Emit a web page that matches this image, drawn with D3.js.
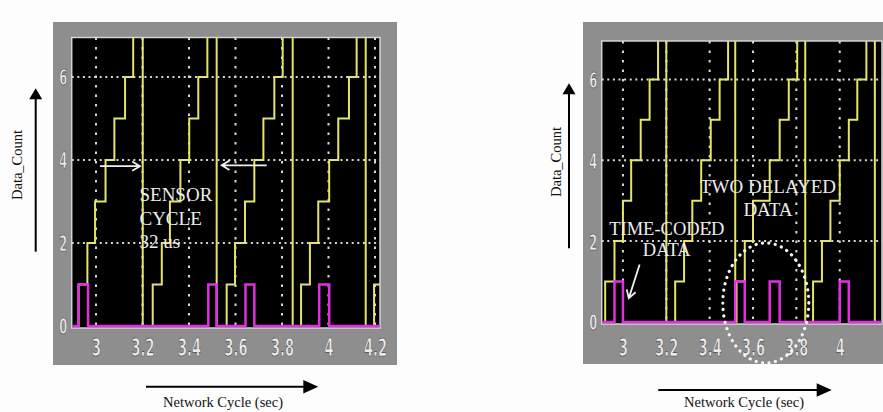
<!DOCTYPE html>
<html>
<head>
<meta charset="utf-8">
<script src="https://cdn.jsdelivr.net/npm/d3@7"></script>
<style>
  body { margin: 0; background: #fdfdfd; }
  svg { display: block; }
</style>
</head>
<body>
<div id="chart"></div>
<script>
const xTicks = [3, 3.2, 3.4, 3.6, 3.8, 4, 4.2];
const yTicks = [0, 2, 4, 6];

// left scope: regular sensor cycle (time of each step, count after the step)
const leftTimes = [2.925, 2.963, 2.996, 3.041, 3.079, 3.125, 3.160, 3.201,
                   3.244, 3.283, 3.318, 3.363, 3.401, 3.440, 3.479, 3.519,
                   3.562, 3.598, 3.641, 3.681, 3.720, 3.767, 3.803, 3.846,
                   3.882, 3.920, 3.956, 4.003, 4.042, 4.088, 4.121, 4.160,
                   4.196];
const leftCounts = [1, 2, 3, 4, 5, 6, 7, 0,
                    1, 2, 3, 4, 5, 6, 7, 0,
                    1, 2, 3, 4, 5, 6, 7, 0,
                    1, 2, 3, 4, 5, 6, 7, 0,
                    1];
const leftPulseStart = [2.925, 3.483, 3.643, 3.960];
const leftPulseEnd   = [2.966, 3.519, 3.681, 4.003];

// right scope: time-coded data, two delayed samples in the 3rd cycle
const rightTimes = [2.918, 2.961, 3.000, 3.038, 3.082, 3.123, 3.162, 3.200,
                    3.241, 3.282, 3.320, 3.361, 3.405, 3.446, 3.485, 3.518,
                    3.524, 3.562, 3.600, 3.677, 3.723, 3.765, 3.804, 3.841,
                    3.877, 3.918, 3.957, 4.000, 4.042, 4.081, 4.123, 4.162];
const rightCounts = [1, 2, 3, 4, 5, 6, 7, 0,
                     1, 2, 3, 4, 5, 6, 7, 0,
                     1, 2, 3, 4, 5, 6, 7, 0,
                     1, 2, 3, 4, 5, 6, 7, 0];
const rightPulseStart = [2.961, 3.518, 3.677, 4.000];
const rightPulseEnd   = [3.000, 3.562, 3.723, 4.042];

const width = 883, height = 412;
const svg = d3.select("#chart").append("svg")
  .attr("width", width)
  .attr("height", height);

const yellow = "#e4e46a";
const magenta = "#e22ee2";
const serif = "'Liberation Serif', 'Times New Roman', serif";

function drawScope(o) {
  const g = svg.append("g");

  g.append("rect")
    .attr("x", o.frame[0]).attr("y", o.frame[1])
    .attr("width", o.frame[2]).attr("height", o.frame[3])
    .attr("fill", "#8e8e8e");

  const x = d3.scaleLinear().domain(o.xDomain).range([o.left, o.right]);
  const y = d3.scaleLinear().domain([-0.05, 6.95]).range([o.bottom, o.top]);

  g.append("rect")
    .attr("x", o.left).attr("y", o.top)
    .attr("width", o.right - o.left).attr("height", o.bottom - o.top)
    .attr("fill", "#000")
    .attr("stroke", "#d4d4d4")
    .attr("stroke-width", 1.5);

  const clipId = "clip" + o.id;
  g.append("clipPath").attr("id", clipId)
    .append("rect")
    .attr("x", o.left).attr("y", o.top)
    .attr("width", o.right - o.left).attr("height", o.bottom - o.top);

  // dotted grid
  g.append("g").selectAll("line").data(yTicks.filter(d => d > 0)).join("line")
    .attr("x1", o.left).attr("x2", o.right)
    .attr("y1", d => y(d)).attr("y2", d => y(d))
    .attr("stroke", "#d8d8d8").attr("stroke-width", 2)
    .attr("stroke-dasharray", "2,3.6");
  g.append("g").selectAll("line").data(xTicks.filter(d => x(d) < o.right - 1)).join("line")
    .attr("x1", d => x(d)).attr("x2", d => x(d))
    .attr("y1", o.top).attr("y2", o.bottom)
    .attr("stroke", "#d8d8d8").attr("stroke-width", 2)
    .attr("stroke-dasharray", "2.5,7");

  const plot = g.append("g").attr("clip-path", "url(#" + clipId + ")");

  // data count staircase
  const steps = [[o.xDomain[0], 0]].concat(d3.zip(o.times, o.counts), [[o.xDomain[1], o.counts[o.counts.length - 1]]]);
  const stepLine = d3.line()
    .x(d => x(d[0]))
    .y(d => y(d[1]))
    .curve(d3.curveStepAfter);
  plot.append("path")
    .attr("d", stepLine(steps))
    .attr("fill", "none")
    .attr("stroke", yellow)
    .attr("stroke-width", 2);

  // time-coded pulses
  const pulsePts = [[o.xDomain[0], 0]];
  d3.zip(o.pulseStart, o.pulseEnd).forEach(([s, e]) => {
    pulsePts.push([s, 0], [s, 1], [e, 1], [e, 0]);
  });
  pulsePts.push([o.xDomain[1], 0]);
  plot.append("path")
    .attr("d", d3.line().x(d => x(d[0])).y(d => y(d[1]))(pulsePts))
    .attr("fill", "none")
    .attr("stroke", magenta)
    .attr("stroke-width", 2.5);

  // axes
  const sx = 0.52;
  const xAxis = g.append("g")
    .attr("transform", "translate(0," + o.bottom + ")")
    .call(d3.axisBottom(x).tickValues(xTicks.filter(d => x(d) < width)).tickSize(0).tickFormat(d3.format("")));
  xAxis.select(".domain").remove();
  xAxis.selectAll("text")
    .attr("y", o.xLabelY)
    .attr("dy", null)
    .attr("transform", "scale(" + sx + ",1)")
    .attr("fill", "#ececec")
    .attr("stroke", "#444")
    .attr("stroke-width", 0.7)
    .style("font-family", "'DejaVu Sans', sans-serif")
    .style("font-weight", "bold")
    .style("font-size", "25px");

  const yAxis = g.append("g")
    .attr("transform", "translate(" + o.left + ",0)")
    .call(d3.axisLeft(y).tickValues(yTicks).tickSize(0).tickFormat(d3.format("")));
  yAxis.select(".domain").remove();
  yAxis.selectAll("text")
    .attr("x", o.yLabelX / sx)
    .attr("dy", "0.36em")
    .attr("text-anchor", "middle")
    .attr("transform", "scale(" + sx + ",1)")
    .attr("fill", "#ececec")
    .attr("stroke", "#444")
    .attr("stroke-width", 0.7)
    .style("font-family", "'DejaVu Sans', sans-serif")
    .style("font-weight", "bold")
    .style("font-size", "22px");

  return { g, x, y };
}

const L = drawScope({
  id: "L", frame: [53, 22, 344, 343],
  left: 71.7, right: 380, top: 37.5, bottom: 328,
  xDomain: [2.8955, 4.2215],
  times: leftTimes, counts: leftCounts,
  pulseStart: leftPulseStart, pulseEnd: leftPulseEnd,
  xLabelY: 28, yLabelX: -8.5
});

const R = drawScope({
  id: "R", frame: [583, 22, 302, 342],
  left: 601.7, right: 882, top: 41, bottom: 324,
  xDomain: [2.902, 4.195],
  times: rightTimes, counts: rightCounts,
  pulseStart: rightPulseStart, pulseEnd: rightPulseEnd,
  xLabelY: 32, yLabelX: -8.5
});

// ---- left annotations
function whiteArrow(g, x1, y1, x2, y2) {
  const a = Math.atan2(y2 - y1, x2 - x1), h = 9;
  g.append("path")
    .attr("d", "M" + x1 + "," + y1 + "L" + x2 + "," + y2 +
      "M" + (x2 - h * Math.cos(a - 0.55)) + "," + (y2 - h * Math.sin(a - 0.55)) +
      "L" + x2 + "," + y2 +
      "L" + (x2 - h * Math.cos(a + 0.55)) + "," + (y2 - h * Math.sin(a + 0.55)))
    .attr("fill", "none")
    .attr("stroke", "#f0f0f0")
    .attr("stroke-width", 1.8);
}

whiteArrow(L.g, L.x(3.017), L.y(3.85), L.x(3.189), L.y(3.85));
whiteArrow(L.g, L.x(3.734), L.y(3.87), L.x(3.541), L.y(3.87));

L.g.append("text")
  .attr("x", L.x(3.187))
  .attr("y", L.y(3.0))
  .attr("fill", "#ececec")
  .style("font-family", serif)
  .style("font-size", "19px")
  .selectAll("tspan").data(["SENSOR", "CYCLE", "32 us"]).join("tspan")
  .attr("x", L.x(3.187))
  .attr("dy", (d, i) => i ? 23.4 : 0)
  .text(d => d);

// ---- right annotations
R.g.append("text")
  .attr("text-anchor", "middle")
  .attr("fill", "#ececec")
  .style("font-family", serif)
  .style("font-size", "19px")
  .selectAll("tspan").data(["TWO DELAYED", "DATA"]).join("tspan")
  .attr("x", R.x(3.669))
  .attr("y", (d, i) => R.y(3.19) + i * 23.2)
  .text(d => d);

R.g.append("text")
  .attr("text-anchor", "middle")
  .attr("fill", "#ececec")
  .style("font-family", serif)
  .style("font-size", "18.5px")
  .selectAll("tspan").data(["TIME-CODED", "DATA"]).join("tspan")
  .attr("x", R.x(3.202))
  .attr("y", (d, i) => R.y(2.16) + i * 21.6)
  .text(d => d);

whiteArrow(R.g, R.x(3.077), R.y(1.42), R.x(3.027), R.y(0.59));

R.g.append("ellipse")
  .attr("cx", R.x(3.659))
  .attr("cy", R.y(0.47))
  .attr("rx", 43)
  .attr("ry", 60)
  .attr("fill", "none")
  .attr("stroke", "#f4f4f4")
  .attr("stroke-width", 3.2)
  .attr("stroke-linecap", "round")
  .attr("stroke-dasharray", "0.1,6.4");

// ---- outer axis titles with black arrows
function blackArrowV(x, yTail, yTip) {
  svg.append("line")
    .attr("x1", x).attr("x2", x).attr("y1", yTail).attr("y2", yTip + 8)
    .attr("stroke", "#000").attr("stroke-width", 2);
  svg.append("path")
    .attr("d", `M${x},${yTip}L${x - 6.5},${yTip + 11}L${x + 6.5},${yTip + 11}Z`)
    .attr("fill", "#000");
}
function blackArrowH(y, xTail, xTip) {
  svg.append("line")
    .attr("x1", xTail).attr("x2", xTip - 8).attr("y1", y).attr("y2", y)
    .attr("stroke", "#000").attr("stroke-width", 2);
  svg.append("path")
    .attr("d", `M${xTip},${y}L${xTip - 15},${y - 6.8}L${xTip - 15},${y + 6.8}Z`)
    .attr("fill", "#000");
}

blackArrowV(35.7, 251.7, 88.3);
blackArrowV(569, 248.3, 83.3);
blackArrowH(386.7, 146, 318.3);
blackArrowH(390, 658.3, 831.7);

[[22, 165], [560.5, 162]].forEach(([tx, ty]) => {
  svg.append("text")
    .attr("transform", "translate(" + tx + "," + ty + ") rotate(-90)")
    .attr("text-anchor", "middle")
    .attr("fill", "#111")
    .style("font-family", serif)
    .style("font-size", "14.5px")
    .text("Data_Count");
});

[[223, 406.5], [744, 407]].forEach(([tx, ty]) => {
  svg.append("text")
    .attr("x", tx).attr("y", ty)
    .attr("text-anchor", "middle")
    .attr("fill", "#111")
    .style("font-family", serif)
    .style("font-size", "14.5px")
    .text("Network Cycle (sec)");
});
</script>
</body>
</html>
